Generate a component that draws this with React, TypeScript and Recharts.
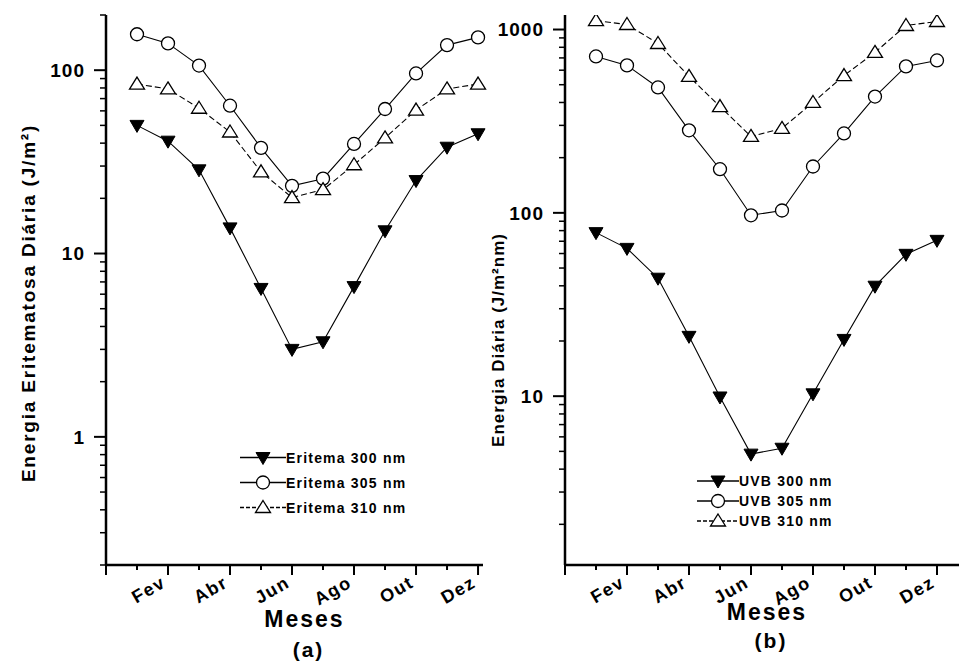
import { Legend, Line, LineChart, XAxis, YAxis } from "recharts";

// months 1..12 plotted at their index; 0 is the axis origin
const MONTHS = [1, 2, 3, 4, 5, 6, 7, 8, 9, 10, 11, 12];
const X_TICKS = [0, 1, 2, 3, 4, 5, 6, 7, 8, 9, 10, 11, 12];
const MONTH_LABELS: Record<number, string> = { 2: "Fev", 4: "Abr", 6: "Jun", 8: "Ago", 10: "Out", 12: "Dez" };

// (a) Energia eritematosa diária
const ERI_300 = [50, 41, 28.6, 13.8, 6.45, 3.0, 3.3, 6.6, 13.3, 25, 38, 45];
const ERI_305 = [157, 140, 106, 64, 37.7, 23.4, 25.6, 39.6, 61.4, 96, 137, 151];
const ERI_310 = [84, 79, 62, 46, 27.9, 20.2, 22.3, 30.5, 42.7, 60.6, 79, 84];

// (b) Energia diária UVB
const UVB_300 = [78, 64, 44, 21.2, 9.9, 4.83, 5.2, 10.3, 20.4, 39.8, 59.4, 70.8];
const UVB_305 = [713, 637, 483, 282, 173, 97, 103, 179, 271, 431, 629, 678];
const UVB_310 = [1119, 1065, 839, 555, 380, 261, 289, 400, 561, 750, 1052, 1106];

const LEFT_Y_TICKS = [0.2, 0.3, 0.4, 0.5, 0.6, 0.7, 0.8, 0.9, 1, 2, 3, 4, 5, 6, 7, 8, 9, 10, 20, 30, 40, 50, 60, 70, 80, 90, 100, 200];
const LEFT_Y_LABELS = [1, 10, 100];
const RIGHT_Y_TICKS = [2, 3, 4, 5, 6, 7, 8, 9, 10, 20, 30, 40, 50, 60, 70, 80, 90, 100, 200, 300, 400, 500, 600, 700, 800, 900, 1000];
const RIGHT_Y_LABELS = [10, 100, 1000];

const leftData = MONTHS.map((m, i) => ({ m, s300: ERI_300[i], s305: ERI_305[i], s310: ERI_310[i] }));
const rightData = MONTHS.map((m, i) => ({ m, s300: UVB_300[i], s305: UVB_305[i], s310: UVB_310[i] }));

const FONT = '"Liberation Sans", Arial, sans-serif';
const INK = "#000";

function DownTri({ cx, cy }: any) {
  if (cx == null || cy == null) return null;
  return <path d={`M${cx - 7},${cy - 5} L${cx + 7},${cy - 5} L${cx},${cy + 7} Z`} fill={INK} stroke={INK} strokeWidth={1} />;
}
function OpenCircle({ cx, cy }: any) {
  if (cx == null || cy == null) return null;
  return <circle cx={cx} cy={cy} r={6.5} fill="#fff" stroke={INK} strokeWidth={1.3} />;
}
function UpTri({ cx, cy }: any) {
  if (cx == null || cy == null) return null;
  return <path d={`M${cx},${cy - 7} L${cx + 7.5},${cy + 5} L${cx - 7.5},${cy + 5} Z`} fill="#fff" stroke={INK} strokeWidth={1.3} />;
}

const MARKERS: Record<string, (p: any) => any> = { s300: DownTri, s305: OpenCircle, s310: UpTri };
const DASH: Record<string, string | undefined> = { s300: undefined, s305: undefined, s310: "6 3" };

function MonthTick({ x, y, payload }: any) {
  const m = payload.value;
  const label = MONTH_LABELS[m];
  const even = m % 2 === 0;
  return (
    <g>
      <line x1={x} x2={x} y1={m === 0 ? y - 8 : y} y2={y + (even ? 10 : 5)} stroke={INK} strokeWidth={2} />
      {label && (
        <text
          x={x - 1}
          y={y + 21}
          transform={`rotate(-30 ${x - 1} ${y + 21})`}
          textAnchor="end"
          fontFamily={FONT}
          fontWeight="bold"
          fontSize={18}
          letterSpacing={1.5}
          fill={INK}
        >
          {label}
        </text>
      )}
    </g>
  );
}

function makeYTick(labels: number[]) {
  return ({ x, y, payload }: any) => {
    const v = payload.value;
    const major = labels.includes(v);
    return (
      <g>
        <line x1={x - (major ? 12 : 6)} x2={x} y1={y} y2={y} stroke={INK} strokeWidth={major ? 2 : 1.5} />
        {major && (
          <text x={x - 21} y={y} dy="0.36em" textAnchor="end" fontFamily={FONT} fontWeight="bold" fontSize={19} letterSpacing={1} fill={INK}>
            {v}
          </text>
        )}
      </g>
    );
  };
}

function YTitle({ viewBox, text, dx, dy, size, spacing }: any) {
  const cx = viewBox.x + dx;
  const cy = viewBox.y + viewBox.height / 2 + dy;
  return (
    <text
      x={cx}
      y={cy}
      transform={`rotate(-90 ${cx} ${cy})`}
      textAnchor="middle"
      dy="0.36em"
      fontFamily={FONT}
      fontWeight="bold"
      fontSize={size}
      letterSpacing={spacing}
      fill={INK}
    >
      {text}
    </text>
  );
}

function XTitle({ viewBox, tag, dx, y1, y2 }: any) {
  const cx = viewBox.x + viewBox.width / 2 + dx;
  return (
    <g fontFamily={FONT} fontWeight="bold" fill={INK} textAnchor="middle">
      <text x={cx} y={viewBox.y + y1} fontSize={23} letterSpacing={2}>
        Meses
      </text>
      <text x={cx + 4} y={viewBox.y + y2} fontSize={21} letterSpacing={2}>
        {tag}
      </text>
    </g>
  );
}

function makeLegend(rowH: number, lineW: number, fontSize: number) {
  return ({ payload }: any) => (
    <div style={{ fontFamily: FONT, fontSize, fontWeight: "bold", color: INK }}>
      {(payload || []).map((p: any) => {
        const key = p.dataKey as string;
        const Marker = MARKERS[key];
        return (
          <div key={key} style={{ display: "flex", alignItems: "center", height: rowH }}>
            <svg width={lineW} height={rowH} style={{ display: "block" }}>
              <line x1={0} x2={lineW} y1={rowH / 2} y2={rowH / 2} stroke={INK} strokeWidth={1.3} strokeDasharray={DASH[key] ? "4 2" : undefined} />
              <Marker cx={lineW / 2} cy={rowH / 2} />
            </svg>
            <span style={{ letterSpacing: 1.2, whiteSpace: "nowrap" }}>{p.value}</span>
          </div>
        );
      })}
    </div>
  );
}

function Panel({
  data, width, plotLeft, marginRight, xMax, yDomain, yTicks, yLabels, yTitle, tDx, tDy, tSize, tSpacing,
  names, tag, titleDx, y1, y2, legendPos, rowH, lineW, legendFont,
}: any) {
  return (
    <LineChart width={width} height={662} data={data} margin={{ top: 15, right: marginRight, bottom: 37, left: 10 }}>
      <XAxis
        type="number"
        dataKey="m"
        domain={[0, xMax]}
        ticks={X_TICKS}
        interval={0}
        height={60}
        tickSize={0}
        tickMargin={0}
        tick={<MonthTick />}
        axisLine={{ stroke: INK, strokeWidth: 2.5 }}
        label={{ content: (p: any) => <XTitle viewBox={p.viewBox} tag={tag} dx={titleDx} y1={y1} y2={y2} /> }}
      />
      <YAxis
        scale="log"
        domain={yDomain}
        allowDataOverflow
        ticks={yTicks}
        interval={0}
        width={plotLeft - 10}
        tickSize={0}
        tickMargin={0}
        tick={makeYTick(yLabels)}
        axisLine={{ stroke: INK, strokeWidth: 2.5 }}
        label={{
          content: (p: any) => <YTitle viewBox={p.viewBox} text={yTitle} dx={tDx} dy={tDy} size={tSize} spacing={tSpacing} />,
        }}
      />
      <Legend
        layout="horizontal"
        verticalAlign="middle"
        align="center"
        wrapperStyle={{ left: legendPos[0], top: legendPos[1], width: "auto" }}
        content={makeLegend(rowH, lineW, legendFont)}
      />
      {["s300", "s305", "s310"].map((k, i) => (
        <Line
          key={k}
          dataKey={k}
          name={names[i]}
          type="linear"
          stroke={INK}
          strokeWidth={1.1}
          strokeDasharray={DASH[k]}
          dot={MARKERS[k]}
          activeDot={false}
          isAnimationActive={false}
        />
      ))}
    </LineChart>
  );
}

export default function App() {
  return (
    <div style={{ position: "absolute", left: 0, top: 0, width: 960, height: 662, background: "#fff" }}>
      <div style={{ position: "absolute", left: 0, top: 0 }}>
        <Panel
          data={leftData}
          width={490}
          plotLeft={106}
          marginRight={7}
          xMax={12.16}
          yDomain={[0.2, 200]}
          yTicks={LEFT_Y_TICKS}
          yLabels={LEFT_Y_LABELS}
          yTitle="Energia Eritematosa Diária (J/m²)"
          tDx={18}
          tDy={13}
          tSize={19}
          tSpacing={1.8}
          names={["Eritema 300 nm", "Eritema 305 nm", "Eritema 310 nm"]}
          tag="(a)"
          titleDx={10}
          y1={62}
          y2={92}
          legendPos={[240, 445]}
          rowH={25}
          lineW={46}
          legendFont={14}
        />
      </div>
      <div style={{ position: "absolute", left: 480, top: 0 }}>
        <Panel
          data={rightData}
          width={480}
          plotLeft={85}
          marginRight={1}
          xMax={12.71}
          yDomain={[1.2, 1200]}
          yTicks={RIGHT_Y_TICKS}
          yLabels={RIGHT_Y_LABELS}
          yTitle="Energia Diária (J/m²nm)"
          tDx={8}
          tDy={50}
          tSize={17}
          tSpacing={1}
          names={["UVB 300 nm", "UVB 305 nm", "UVB 310 nm"]}
          tag="(b)"
          titleDx={5}
          y1={55}
          y2={83}
          legendPos={[217, 471]}
          rowH={20}
          lineW={42}
          legendFont={14}
        />
      </div>
    </div>
  );
}
